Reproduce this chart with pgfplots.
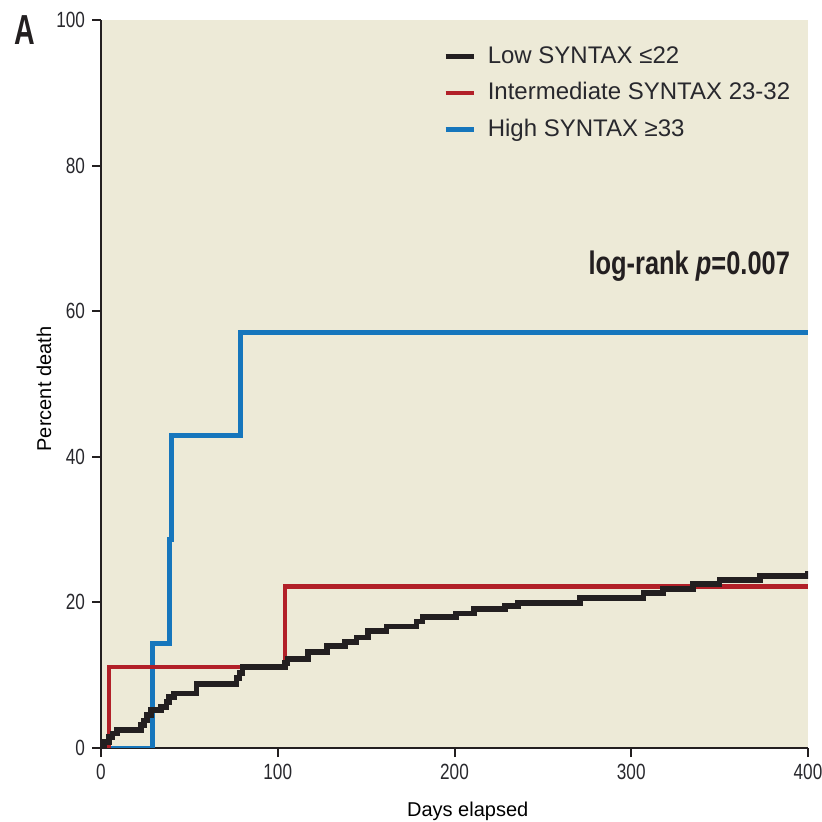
\documentclass[border=0pt]{standalone}
\usepackage{pgfplots}
\pgfplotsset{compat=1.18}
\usepackage{fontspec}
\setmainfont{Liberation Sans}
\newfontfamily\condfont[FakeStretch=0.78]{Liberation Sans}
\newfontfamily\narrowfont[FakeStretch=0.68]{Liberation Sans}
\definecolor{kmbg}{RGB}{237,234,215}
\definecolor{kmblack}{RGB}{35,31,32}
\definecolor{kmred}{RGB}{178,32,40}
\definecolor{kmblue}{RGB}{22,118,188}
\definecolor{kmtext}{RGB}{40,40,45}

\begin{document}
\begin{tikzpicture}
\useasboundingbox (-50.5pt,-37pt) rectangle (360pt,374pt);
\begin{axis}[
    at={(0,0)}, anchor=south west,
    scale only axis, width=353.5pt, height=364pt,
    xmin=0, xmax=400, ymin=0, ymax=100,
    axis x line*=bottom, axis y line*=left,
    axis line style={line width=1.3pt, kmblack, -},
    axis background/.style={fill=kmbg},
    xtick={0,100,...,400}, ytick={0,20,...,100},
    tick align=outside, major tick length=4.5pt,
    tick style={line width=1pt, kmblack},
    ticklabel style={font=\condfont\fontsize{11}{13}\selectfont, text=kmtext},
    /pgf/number format/assume math mode=true,
    xlabel={Days elapsed},
    ylabel={Percent death},
    label style={font=\fontsize{12}{14}\selectfont, text=kmtext},
    every axis x label/.style={at={(axis description cs:0.423,-0.094)}, anchor=base west},
    every axis y label/.style={at={(axis description cs:-0.0806,0.493)}, rotate=90, anchor=center},
    legend style={at={(0.4837,0.9688)}, anchor=north west, draw=none, fill=none,
        inner sep=0pt, row sep=4.75pt,
        font=\fontsize{12}{14}\selectfont, text=kmtext,
        nodes={inner sep=1pt, text height=9pt, text depth=2.5pt},
        /tikz/every odd column/.append style={column sep=5pt}},
    legend cell align=left,
    legend image code/.code={\draw[#1, line width=2.2pt] (0pt,0pt) -- (14pt,0pt);},
    reverse legend,
]
% High SYNTAX
\addplot[const plot, kmblue, line width=2.4pt] coordinates {
    (0,0) (29,14.3) (38.6,28.6) (40,42.9) (79,57.1) (400,57.1)
};
\addlegendentry{High SYNTAX ≥33}

% Intermediate SYNTAX
\addplot[const plot, kmred, line width=2.2pt] coordinates {
    (0,0) (4.5,11.1) (104,22.2) (400,22.2)
};
\addlegendentry{Intermediate SYNTAX 23-32}

% Low SYNTAX
\addplot[const plot, kmblack, line width=2.8pt] coordinates {
    (0,0) (1.7,0.8) (4.5,1.5) (6.5,2.0) (9,2.5) (22.7,3.2) (24.4,3.8)
    (26,4.5) (28.4,5.2) (34,5.6) (37,6.3) (38.6,7.0) (41.4,7.5) (54,8.8)
    (76.6,9.6) (78.3,10.3) (80,11.1) (104,11.7) (105.5,12.2) (117,13.2)
    (128,14.0) (138,14.6) (144.5,15.2) (151,16.1) (161.5,16.7) (178.5,17.4)
    (182,18.0) (201,18.5) (211,19.1) (228.6,19.5) (236,19.9) (271,20.6)
    (307,21.3) (318,21.8) (335,22.5) (350,23.1) (373,23.6) (400,24.3)
};
\addlegendentry{Low SYNTAX ≤22}

\node[anchor=base east, text=kmblack, inner sep=0pt,
      font=\condfont\bfseries\fontsize{16.3}{19}\selectfont]
    at (axis cs:390,65) {log-rank \textit{p}=0.007};
\end{axis}
\node[anchor=base west, text=kmblack, inner sep=0pt,
      font=\narrowfont\bfseries\fontsize{21}{24}\selectfont]
    at (-43.5pt,351.5pt) {A};
\end{tikzpicture}
\end{document}
